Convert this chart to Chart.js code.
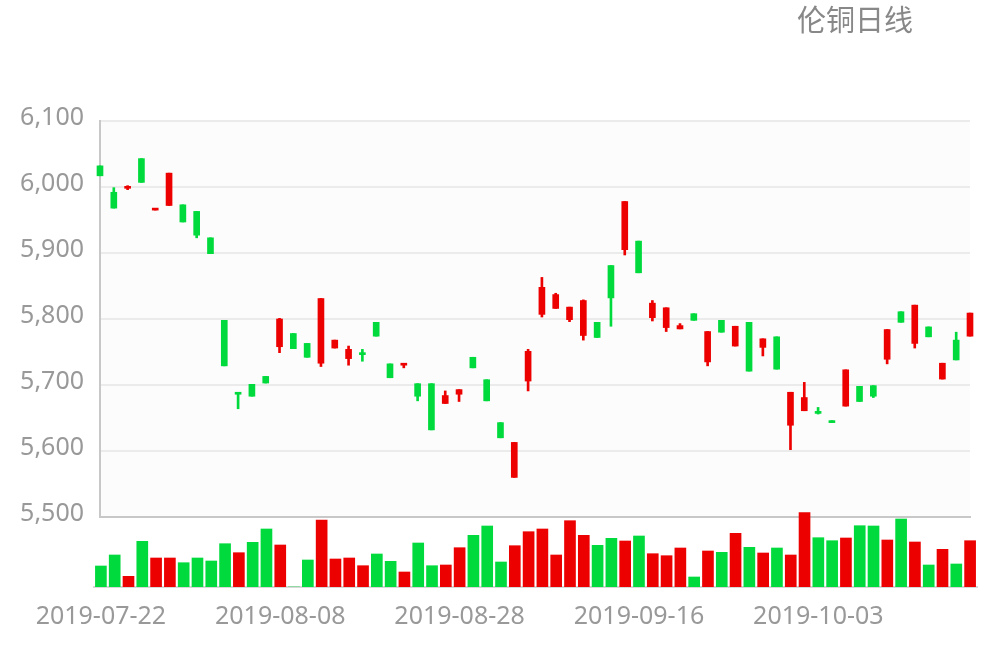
<!DOCTYPE html>
<html>
<head>
<meta charset="utf-8">
<script src="https://cdn.jsdelivr.net/npm/chart.js@4.4.0/dist/chart.umd.min.js"></script>
<style>
html,body{margin:0;padding:0;background:#fff;}
#wrap{position:relative;width:1000px;height:660px;overflow:hidden;background:#fff;}
#price{position:absolute;left:0;top:0;}
#vol{position:absolute;left:0;top:480px;}
#title{position:absolute;left:797px;top:4px;font-family:"Noto Sans CJK SC";font-size:29px;line-height:1;color:#888;white-space:nowrap;}
</style>
</head>
<body>
<div id="wrap">
  <canvas id="price" width="1000" height="548"></canvas>
  <canvas id="vol" width="1000" height="180"></canvas>
  <div id="title">伦铜日线</div>
</div>
<script>
// ---- data ----
const dates = [
  '2019-07-22','2019-07-23','2019-07-24','2019-07-25','2019-07-26',
  '2019-07-29','2019-07-30','2019-07-31','2019-08-01','2019-08-02',
  '2019-08-05','2019-08-06','2019-08-07','2019-08-08','2019-08-09',
  '2019-08-12','2019-08-13','2019-08-14','2019-08-15','2019-08-16',
  '2019-08-19','2019-08-20','2019-08-21','2019-08-22','2019-08-23',
  '2019-08-27','2019-08-28','2019-08-29','2019-08-30',
  '2019-09-02','2019-09-03','2019-09-04','2019-09-05','2019-09-06',
  '2019-09-09','2019-09-10','2019-09-11','2019-09-12','2019-09-13',
  '2019-09-16','2019-09-17','2019-09-18','2019-09-19','2019-09-20',
  '2019-09-23','2019-09-24','2019-09-25','2019-09-26','2019-09-27',
  '2019-09-30','2019-10-01','2019-10-02','2019-10-03','2019-10-04',
  '2019-10-07','2019-10-08','2019-10-09','2019-10-10','2019-10-11',
  '2019-10-14','2019-10-15','2019-10-16','2019-10-17','2019-10-18'
];
const opens = [
  6032,5992,5998,6043,5965,5972,5973,5963,5923,5798,
  5686,5701,5713,5758,5778,5763,5733,5756,5740,5746,
  5795,5732,5730,5702,5702,5672,5686,5742,5708,5643,
  5560,5706,5807,5816,5799,5775,5795,5881,5905,5918,
  5802,5787,5785,5808,5735,5798,5759,5795,5757,5773,
  5639,5661,5660,5646,5668,5698,5699,5739,5811,5763,
  5788,5709,5768,5774
];
const closes = [
  6017,5968,6001,6007,5967,6021,5947,5927,5899,5729,
  5686,5683,5703,5800,5755,5742,5831,5768,5754,5746,
  5774,5711,5732,5683,5632,5684,5693,5726,5676,5620,
  5613,5751,5848,5837,5818,5828,5772,5832,5978,5870,
  5824,5817,5790,5798,5781,5780,5789,5721,5770,5724,
  5689,5681,5657,5643,5723,5675,5683,5784,5795,5821,
  5773,5733,5738,5809
];
const lows = [
  6017,5968,5996,6007,5965,5972,5947,5923,5899,5729,
  5664,5683,5703,5749,5755,5742,5728,5756,5730,5736,
  5774,5711,5726,5676,5632,5672,5675,5726,5676,5620,
  5560,5691,5803,5816,5796,5768,5772,5789,5897,5870,
  5797,5781,5785,5798,5729,5780,5759,5721,5744,5724,
  5602,5661,5656,5643,5668,5675,5681,5732,5795,5756,
  5773,5709,5738,5774
];
const highs = [
  6032,5999,6002,6043,5967,6021,5973,5963,5923,5798,
  5687,5701,5713,5801,5778,5763,5831,5768,5759,5754,
  5795,5732,5732,5702,5702,5691,5693,5742,5708,5643,
  5613,5754,5863,5839,5818,5829,5795,5881,5978,5918,
  5828,5817,5793,5808,5781,5798,5789,5795,5770,5773,
  5689,5704,5666,5646,5723,5698,5699,5784,5811,5821,
  5788,5733,5780,5809
];
const volumes = [
  21000,32000,10700,45700,29000,29000,24300,29000,26000,43300,
  34300,44700,58000,42000,0,27000,67000,28000,29000,21300,
  33000,25700,15000,44000,21300,22000,39300,51700,61000,25000,
  41300,55300,58000,32000,66300,51700,41700,48700,46000,51000,
  33300,31300,39000,10000,36000,34700,53700,39700,34000,39000,
  32000,74300,49300,46300,49000,61300,61000,47000,68000,45000,
  22000,37700,23000,46300
];
const priceTicks = [5500,5600,5700,5800,5900,6000,6100];
const xTickLabels = ['2019-07-22','2019-08-08','2019-08-28','2019-09-16','2019-10-03'];

// ---- styling ----
const UP = '#ec0000';
const DOWN = '#00da3c';
const candleColors = dates.map((d, i) => {
  if (closes[i] > opens[i]) return UP;
  if (closes[i] < opens[i]) return DOWN;
  return (i > 0 && closes[i - 1] > closes[i]) ? DOWN : UP;
});
const volColors = dates.map((d, i) => opens[i] > closes[i] ? DOWN : UP);

const areaBg = {
  id: 'areaBg',
  beforeDraw(chart) {
    const {ctx, chartArea: a} = chart;
    ctx.save();
    ctx.fillStyle = '#fcfcfc';
    ctx.fillRect(a.left, a.top, a.right - a.left, a.bottom - a.top);
    ctx.restore();
  }
};

const labelFont = {family: '"Noto Sans", "Liberation Sans", sans-serif', size: 25};

new Chart(document.getElementById('price'), {
  type: 'bar',
  data: {
    labels: dates,
    datasets: [
      {
        label: 'wick',
        data: dates.map((d, i) => [lows[i], highs[i]]),
        backgroundColor: candleColors,
        barThickness: 2,
        grouped: false,
        minBarLength: 1,
        clip: false,
        order: 2
      },
      {
        label: 'body',
        data: dates.map((d, i) => [opens[i], closes[i]]),
        backgroundColor: candleColors,
        barThickness: 6,
        grouped: false,
        minBarLength: 2,
        clip: false,
        order: 1
      }
    ]
  },
  options: {
    responsive: false,
    animation: false,
    layout: {padding: {top: 121, right: 30, bottom: 15, left: 0}},
    plugins: {legend: {display: false}, tooltip: {enabled: false}, title: {display: false}},
    scales: {
      x: {
        offset: false,
        ticks: {display: false},
        grid: {display: true, drawOnChartArea: false, drawTicks: false},
        border: {display: true, color: '#c8c8c8', width: 2},
        afterFit(s) { s.height = 0; }
      },
      y: {
        min: 5500,
        max: 6100,
        afterBuildTicks(s) { s.ticks = priceTicks.map(v => ({value: v})); },
        ticks: {
          padding: 16,
          labelOffset: -3,
          color: '#999',
          font: labelFont,
          callback: v => Number(v).toLocaleString('en-US')
        },
        grid: {color: '#ebebeb', lineWidth: 2, drawTicks: false},
        border: {display: true, color: '#c8c8c8', width: 2},
        afterFit(s) { s.width = 100; }
      }
    }
  },
  plugins: [areaBg]
});

new Chart(document.getElementById('vol'), {
  type: 'bar',
  data: {
    labels: dates,
    datasets: [{
      label: 'volume',
      data: volumes,
      backgroundColor: volColors,
      barThickness: 11
    }]
  },
  options: {
    responsive: false,
    animation: false,
    layout: {padding: {top: 27, right: 23, bottom: 0, left: 94}},
    plugins: {legend: {display: false}, tooltip: {enabled: false}},
    scales: {
      x: {
        offset: true,
        grid: {display: true, drawOnChartArea: false, drawTicks: false},
        border: {display: true, color: '#d8d8d8', width: 2},
        ticks: {
          autoSkip: false,
          maxRotation: 0,
          padding: 15,
          color: '#999',
          font: labelFont,
          callback(v, i) { return xTickLabels.includes(dates[i]) ? dates[i] : ''; }
        },
        afterFit(s) { s.height = 73; }
      },
      y: {display: false, min: 0, max: 80000}
    }
  }
});
</script>
</body>
</html>
